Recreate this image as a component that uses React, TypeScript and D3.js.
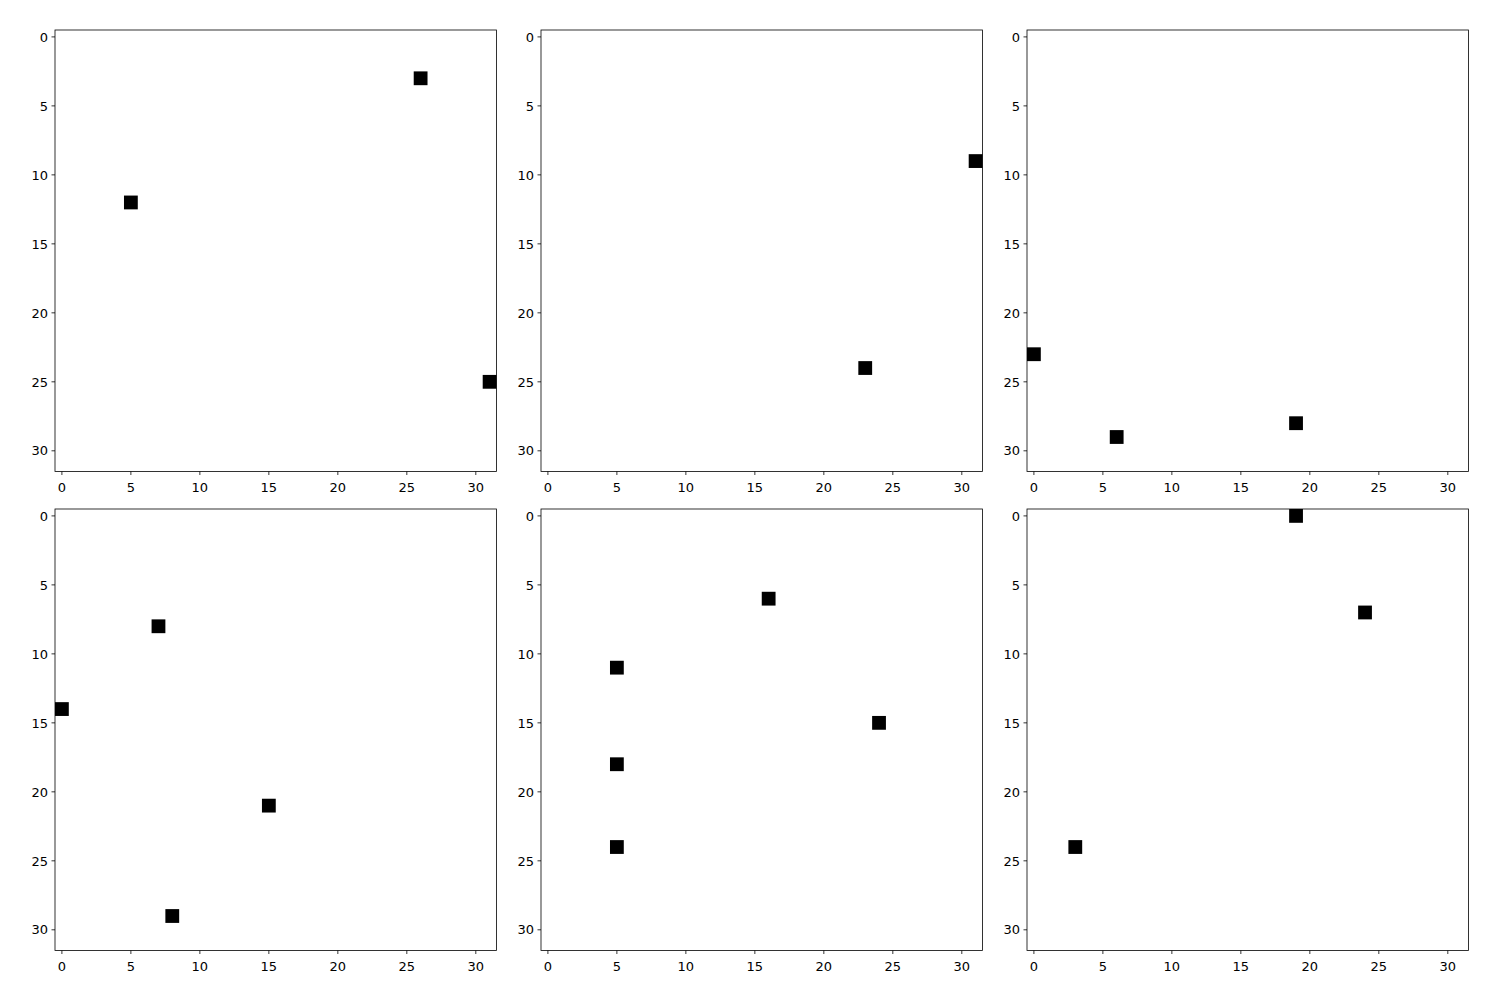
import React from 'react'
import * as d3 from 'd3'

// 32x32 binary images, lit pixels given as [column, row]
const GRID_SIZE = 32
const panel1 = [[26, 3], [5, 12], [31, 25]]
const panel2 = [[31, 9], [23, 24]]
const panel3 = [[0, 23], [6, 29], [19, 28]]
const panel4 = [[7, 8], [0, 14], [15, 21], [8, 29]]
const panel5 = [[16, 6], [5, 11], [24, 15], [5, 18], [5, 24]]
const panel6 = [[19, 0], [24, 7], [3, 24]]
const panels = [panel1, panel2, panel3, panel4, panel5, panel6]
const tickValues = [0, 5, 10, 15, 20, 25, 30]

const colLefts = [55, 541, 1027]
const rowTops = [30, 509]
const size = 441.5

function Panel({ left, top, cells }) {
  const x = d3.scaleLinear().domain([-0.5, GRID_SIZE - 0.5]).range([0, size])
  const y = d3.scaleLinear().domain([-0.5, GRID_SIZE - 0.5]).range([0, size])
  const cw = x(1) - x(0)
  const font = { fontFamily: 'DejaVu Sans', fontSize: 13, fill: '#000' }
  return (
    <g transform={`translate(${left},${top})`}>
      <rect x={0} y={0} width={size} height={size} fill="#fff" />
      {cells.map(([c, r], i) => (
        <rect key={i} x={x(c - 0.5)} y={y(r - 0.5)} width={cw} height={cw} fill="#000" />
      ))}
      <rect x={0} y={0} width={size} height={size} fill="none" stroke="#000" strokeWidth={0.8} />
      {tickValues.map(t => (
        <g key={'x' + t}>
          <line x1={x(t)} x2={x(t)} y1={size} y2={size + 3.5} stroke="#000" strokeWidth={0.8} />
          <text x={x(t)} y={size + 20.5} textAnchor="middle" {...font}>{t}</text>
        </g>
      ))}
      {tickValues.map(t => (
        <g key={'y' + t}>
          <line x1={-3.5} x2={0} y1={y(t)} y2={y(t)} stroke="#000" strokeWidth={0.8} />
          <text x={-7} y={y(t)} dy="0.36em" textAnchor="end" {...font}>{t}</text>
        </g>
      ))}
    </g>
  )
}

export default function App() {
  return (
    <svg width={1500} height={1000} style={{ position: 'absolute', left: 0, top: 0, background: '#fff' }}>
      <rect width={1500} height={1000} fill="#fff" />
      {panels.map((cells, i) => (
        <Panel key={i} left={colLefts[i % 3]} top={rowTops[Math.floor(i / 3)]} cells={cells} />
      ))}
    </svg>
  )
}
